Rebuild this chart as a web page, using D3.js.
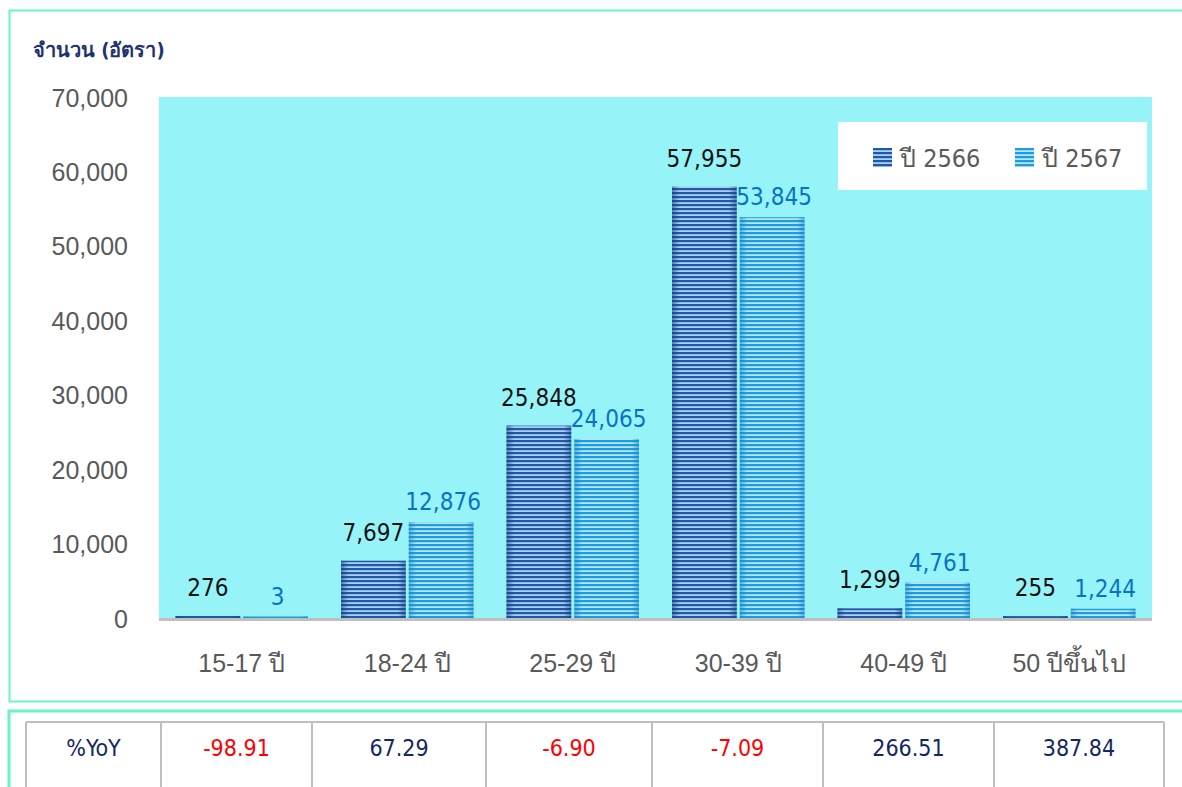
<!DOCTYPE html>
<html>
<head>
<meta charset="utf-8">
<script src="https://cdn.jsdelivr.net/npm/d3@7"></script>
<style>
  body { margin: 0; background: #fff; }
  svg { display: block; font-family: Tahoma, "DejaVu Sans Condensed", "DejaVu Sans", sans-serif; }
</style>
</head>
<body>
<div id="chart"></div>
<script>
const categories = ["15-17 ปี", "18-24 ปี", "25-29 ปี", "30-39 ปี", "40-49 ปี", "50 ปีขึ้นไป"];
const seriesNames = ["ปี 2566", "ปี 2567"];
const values2566 = [276, 7697, 25848, 57955, 1299, 255];
const values2567 = [3, 12876, 24065, 53845, 4761, 1244];
const yoy = [-98.91, 67.29, -6.90, -7.09, 266.51, 387.84];
const yTicks = [0, 10000, 20000, 30000, 40000, 50000, 60000, 70000];

const W = 1182, H = 787;
const plot = { left: 159, right: 1152, top: 97, bottom: 618 };

const svg = d3.select("#chart").append("svg")
  .attr("width", W)
  .attr("height", H);

// striped bar fills
const defs = svg.append("defs");
const fills = [
  { id: "p2566", dark: "#1d5aa8", light: "#adcdf2", edge: "#123f80" },
  { id: "p2567", dark: "#1a9ee0", light: "#b6e6f8", edge: "#1583c4" }
];
fills.forEach(f => {
  const p = defs.append("pattern")
    .attr("id", f.id)
    .attr("patternUnits", "userSpaceOnUse")
    .attr("width", 8).attr("height", 4);
  p.append("rect").attr("width", 8).attr("height", 4).attr("fill", f.light);
  p.append("rect").attr("width", 8).attr("height", 2.2).attr("fill", f.dark);
  const g = defs.append("linearGradient").attr("id", f.id + "-edge");
  g.append("stop").attr("offset", "0%").attr("stop-color", f.edge).attr("stop-opacity", 0.55);
  g.append("stop").attr("offset", "12%").attr("stop-color", f.edge).attr("stop-opacity", 0);
  g.append("stop").attr("offset", "88%").attr("stop-color", f.edge).attr("stop-opacity", 0);
  g.append("stop").attr("offset", "100%").attr("stop-color", f.edge).attr("stop-opacity", 0.55);
});

// panel borders
svg.append("path")
  .attr("d", `M${W + 2},10.5 H9.5 V701.5 H${W + 2}`)
  .attr("fill", "none").attr("stroke", "#68f3cb").attr("stroke-width", 2);
svg.append("path")
  .attr("d", `M${W + 2},711 H9 V${H + 2}`)
  .attr("fill", "none").attr("stroke", "#68f3cb").attr("stroke-width", 3);

// title
svg.append("text")
  .attr("x", 33).attr("y", 57)
  .attr("fill", "#1f3270")
  .attr("font-size", 20).attr("font-weight", "bold")
  .text("จำนวน (อัตรา)");

const x = d3.scaleBand().domain(categories).range([plot.left, plot.right]).paddingInner(0).paddingOuter(0);
const inner = d3.scaleBand().domain(seriesNames).range([16.5, x.bandwidth() - 16.5]).paddingInner(0.045);
const y = d3.scaleLinear().domain([0, 70000]).range([plot.bottom, plot.top]);

svg.append("rect")
  .attr("x", plot.left).attr("y", plot.top)
  .attr("width", plot.right - plot.left).attr("height", plot.bottom - plot.top)
  .attr("fill", "#96f4f9");

// y axis
const yAxis = svg.append("g")
  .attr("transform", `translate(${plot.left - 31},0)`)
  .call(d3.axisLeft(y).tickValues(yTicks).tickSize(0).tickPadding(0).tickFormat(d3.format(",")));
yAxis.select(".domain").remove();
yAxis.selectAll("text")
  .attr("font-size", 25).attr("font-family", null)
  .attr("fill", "#595959")
  .attr("dy", "0.36em");

// x axis
const xAxis = svg.append("g")
  .attr("transform", `translate(0,${plot.bottom + 45})`)
  .call(d3.axisBottom(x).tickSize(0).tickPadding(0));
xAxis.select(".domain").remove();
xAxis.selectAll("text")
  .attr("font-size", 25).attr("font-family", null)
  .attr("fill", "#595959")
  .attr("dy", "0.35em");

const rows = categories.map((c, i) => ({ cat: c, vals: [values2566[i], values2567[i]] }));
const labelColors = ["#111111", "#0a72c4"];

const groups = svg.selectAll("g.cat")
  .data(rows)
  .enter().append("g")
  .attr("class", "cat")
  .attr("transform", d => `translate(${x(d.cat)},0)`);

groups.selectAll("g.bar")
  .data(d => d.vals.map((v, k) => ({ key: seriesNames[k], k, v })))
  .enter().append("g")
  .attr("class", "bar")
  .each(function(d) {
    const g = d3.select(this);
    const top = y(d.v);
    const h = Math.max(plot.bottom - top, d.v > 0 ? 1.5 : 0);
    g.append("rect")
      .attr("x", inner(d.key)).attr("y", plot.bottom - h)
      .attr("width", inner.bandwidth()).attr("height", h)
      .attr("fill", `url(#${fills[d.k].id})`);
    g.append("rect")
      .attr("x", inner(d.key)).attr("y", plot.bottom - h)
      .attr("width", inner.bandwidth()).attr("height", h)
      .attr("fill", `url(#${fills[d.k].id}-edge)`);
    g.append("text")
      .attr("x", inner(d.key) + inner.bandwidth() / 2 + (d.k === 1 ? 2 : 0))
      .attr("y", plot.bottom - h - (d.k === 0 ? 20 : 12))
      .attr("text-anchor", "middle")
      .attr("font-size", 24)
      .attr("fill", labelColors[d.k])
      .text(d3.format(",")(d.v));
  });

// baseline
svg.append("line")
  .attr("x1", plot.left).attr("x2", plot.right)
  .attr("y1", plot.bottom + 1.5).attr("y2", plot.bottom + 1.5)
  .attr("stroke", "#bfbfbf").attr("stroke-width", 3);

// legend
const legend = svg.append("g");
legend.append("rect")
  .attr("x", 838).attr("y", 122).attr("width", 309).attr("height", 68)
  .attr("fill", "#ffffff");
const legendX = [873, 1015];
seriesNames.forEach((s, k) => {
  legend.append("rect")
    .attr("x", legendX[k]).attr("y", 148).attr("width", 19).attr("height", 19)
    .attr("fill", `url(#${fills[k].id})`);
  legend.append("text")
    .attr("x", legendX[k] + 27).attr("y", 158)
    .attr("dy", "0.35em")
    .attr("font-size", 25)
    .attr("fill", "#595959")
    .text(s);
});

// %YoY table
const colEdges = [26, 161, 312, 486, 652, 823, 994, 1164];
const table = svg.append("g");
const tableTop = 722;
table.append("line")
  .attr("x1", colEdges[0]).attr("x2", colEdges[colEdges.length - 1])
  .attr("y1", tableTop).attr("y2", tableTop)
  .attr("stroke", "#bfbfbf").attr("stroke-width", 2);
colEdges.forEach(cx => {
  table.append("line")
    .attr("x1", cx).attr("x2", cx)
    .attr("y1", tableTop).attr("y2", H)
    .attr("stroke", "#bfbfbf").attr("stroke-width", 2);
});
const cells = [{ t: "%YoY", c: "#13285f" }].concat(yoy.map(v => ({ t: v.toFixed(2), c: v < 0 ? "#ff0000" : "#13285f" })));
table.selectAll("text.cell")
  .data(cells)
  .enter().append("text")
  .attr("class", "cell")
  .attr("x", (d, i) => (colEdges[i] + colEdges[i + 1]) / 2)
  .attr("y", 748)
  .attr("dy", "0.35em")
  .attr("text-anchor", "middle")
  .attr("font-size", 23)
  .attr("fill", d => d.c)
  .text(d => d.t);
</script>
</body>
</html>
